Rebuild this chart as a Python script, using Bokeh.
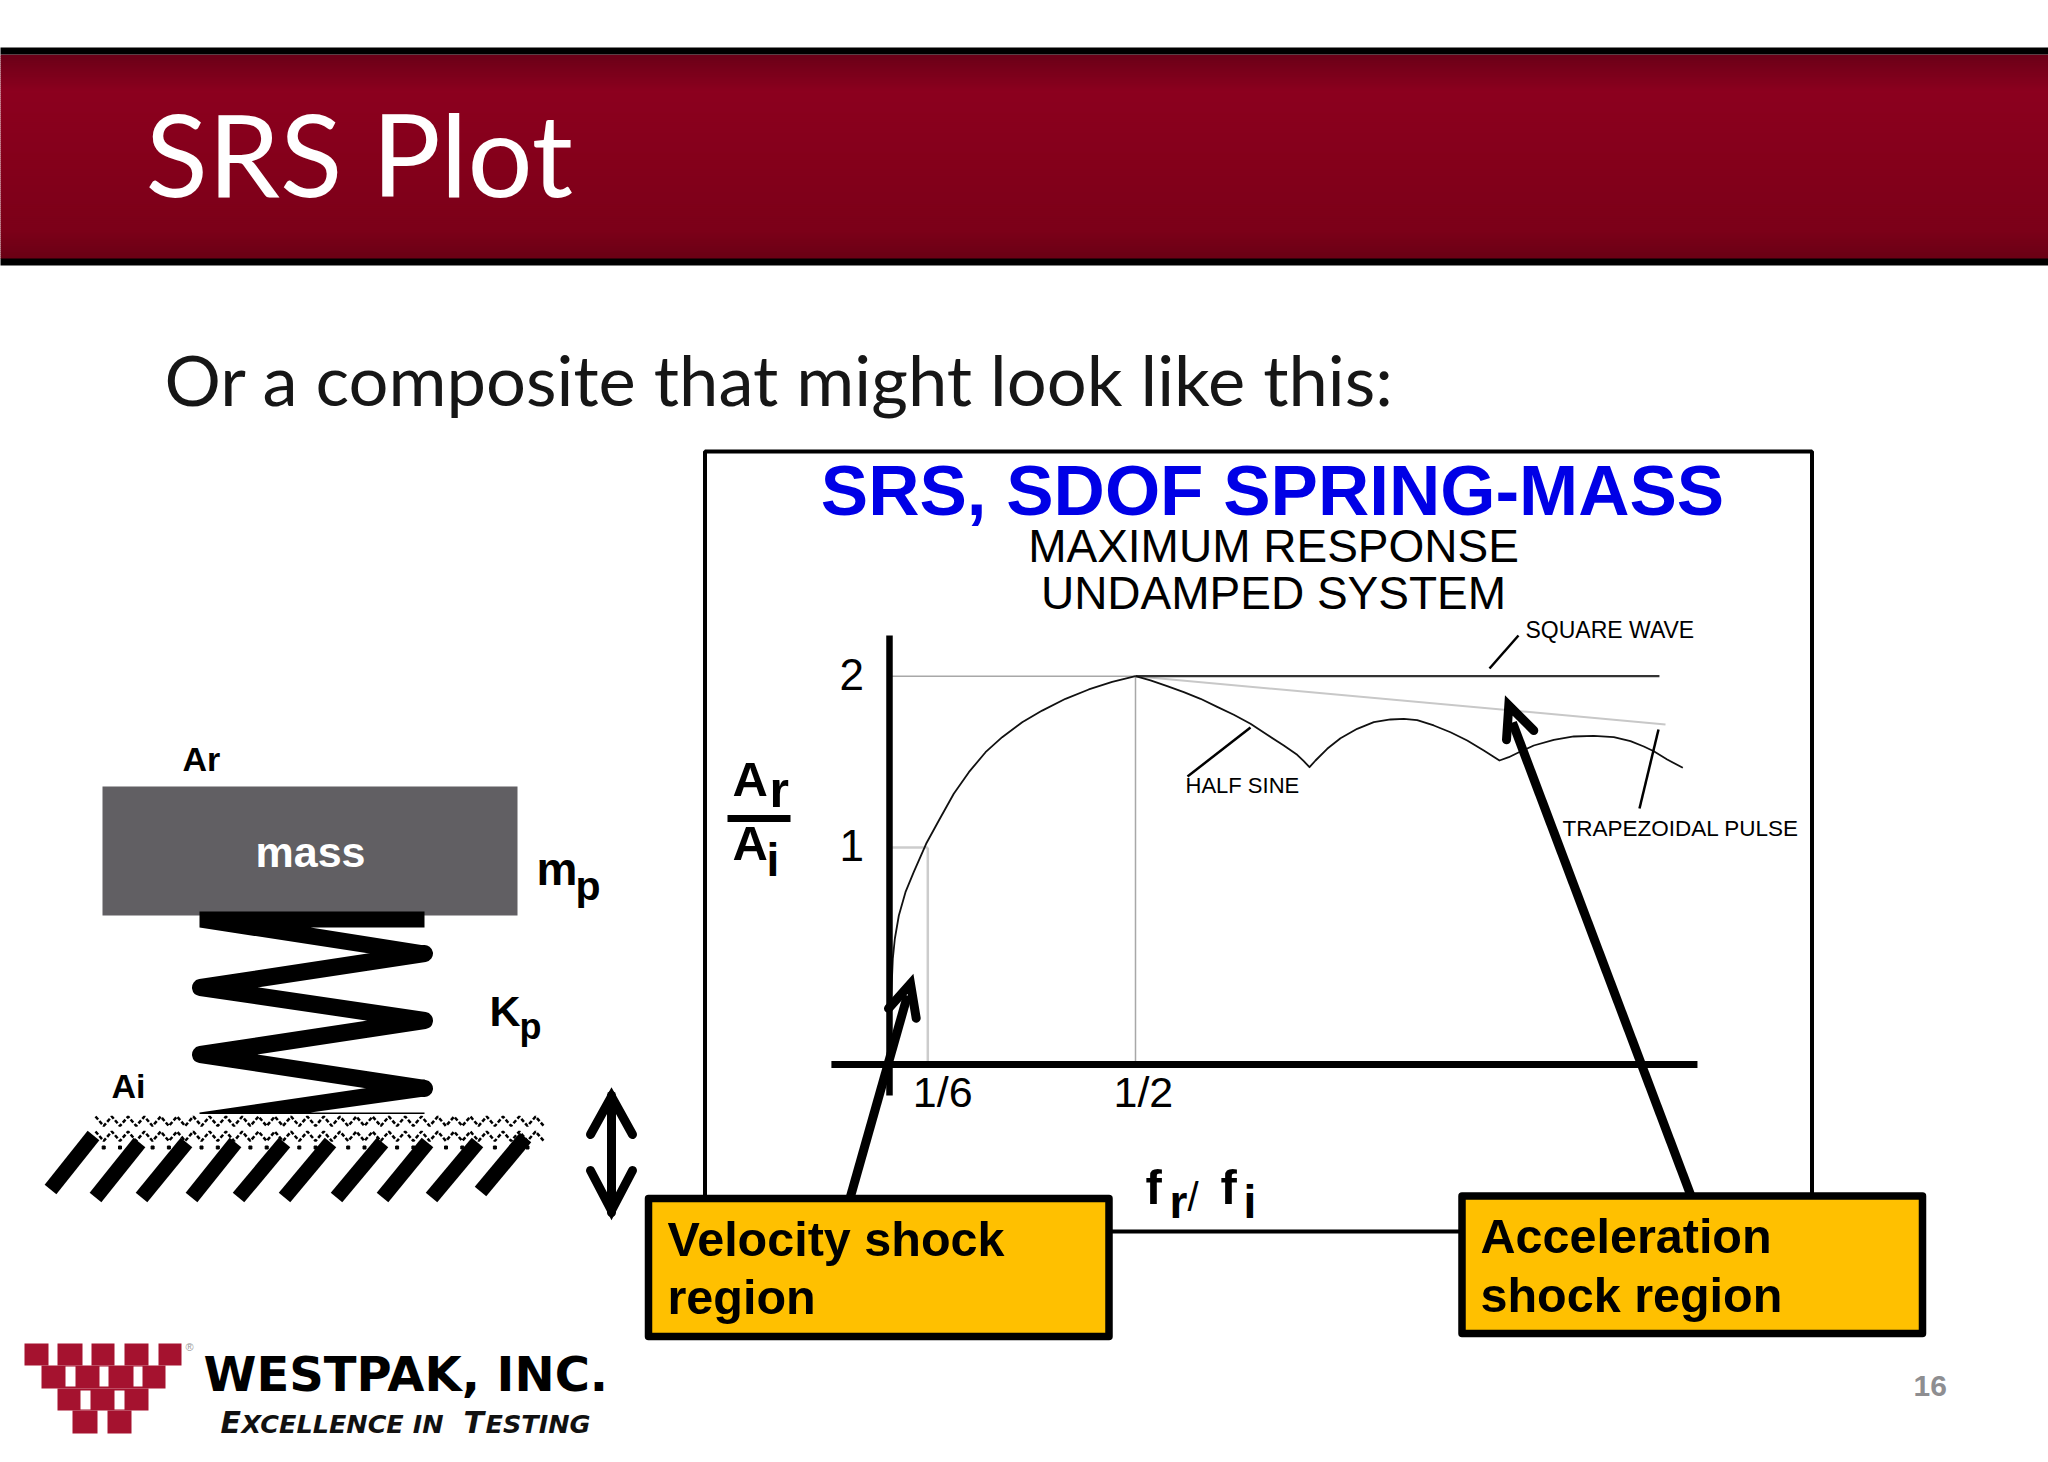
import numpy as np
from bokeh.core.properties import value
from bokeh.embed import file_html
from bokeh.models import Range1d, LogScale
from bokeh.plotting import figure
from bokeh.resources import INLINE

# ---------- chart data: response ratio Ar/Ai against frequency ratio fr/fi ----------
velocity_x = [0.1361, 0.1372, 0.1385, 0.1400, 0.1430, 0.1481, 0.1547, 0.1652, 0.1767, 0.1912, 0.2071,
              0.2262, 0.2470, 0.2746, 0.3052, 0.3453, 0.3905, 0.4420, 0.5]
velocity_y = [0.4157, 0.5385, 0.6371, 0.6912, 0.7595, 0.8345, 0.9050, 1.0151, 1.1155, 1.2428, 1.3563,
              1.4705, 1.5626, 1.6606, 1.7403, 1.8252, 1.8955, 1.9539, 2.0]
half_sine_x = [0.5, 0.5413, 0.5913, 0.6456, 0.7052, 0.7703, 0.8410, 0.9186, 1.0035, 1.0956, 1.1760, 1.2178,
               1.2551, 1.2956, 1.3783, 1.4787, 1.6153, 1.7636, 1.9265, 2.0669, 2.2186, 2.4222, 2.6458,
               2.8903, 3.1556, 3.4285, 3.6015, 3.8315, 4.1106, 4.5692, 5.079, 5.646, 6.276, 6.855, 7.357,
               7.755, 8.325, 9.041]
half_sine_y = [2.0, 1.9657, 1.9206, 1.8748, 1.8252, 1.7669, 1.7107, 1.6498, 1.5778, 1.5109, 1.4552, 1.4179,
               1.3840, 1.4219, 1.4910, 1.5562, 1.6165, 1.6606, 1.6787, 1.6835, 1.6741, 1.6385, 1.5943,
               1.5417, 1.4807, 1.4219, 1.4411, 1.4747, 1.5109, 1.5461, 1.5671, 1.5715, 1.5626, 1.5375, 1.5048,
               1.4765, 1.4276, 1.3806]
square_x = [0.5, 7.99]
square_y = [2.0, 2.0]
trapezoid_x = [0.5, 8.25]
trapezoid_y = [2.0, 1.645]
base_x = [0.1001, 9.77]
base_y = 0.4157
axis_x = 0.1361
axis_y = [0.3665, 2.358]
y_ticks = [1, 2]
y_tick_labels = ["1", "2"]
x_ticks = [1 / 6, 1 / 2]
x_tick_labels = ["1/6", "1/2"]

# ---------- slide artwork (drawn in page pixels) ----------
band_stops_y = [54, 90, 150, 230, 258]
band_stops_r = [108, 140, 134, 124, 106]
band_stops_g = [0, 0, 0, 0, 0]
band_stops_b = [24, 31, 28, 25, 21]
hatch_top_x = [93, 139, 186, 235, 284, 330, 382, 427, 477, 525]
hatch_top_y = [1135, 1142, 1142, 1142, 1142, 1142, 1142, 1142, 1142, 1137]
hatch_bot_x = [50, 95, 141, 191, 238, 284, 336, 382, 431, 480]
hatch_bot_y = [1189, 1197, 1197, 1197, 1197, 1197, 1197, 1197, 1197, 1191]
logo_x0 = [24, 57, 91, 124, 158, 41, 57, 72, 107]
logo_x1 = [48, 82, 114, 148, 181, 165, 148, 97, 131]
logo_y0 = [1343, 1343, 1343, 1343, 1343, 1365, 1388, 1410, 1410]
logo_y1 = [1365, 1365, 1365, 1365, 1365, 1388, 1410, 1433, 1433]
slit_x0 = [65, 99, 133, 80, 114]
slit_x1 = [75, 108, 142, 90, 124]
slit_y0 = [1366, 1366, 1366, 1390, 1390]
slit_y1 = [1386, 1386, 1386, 1409, 1409]

W, H = 2048, 1462
p = figure(width=W, height=H, x_range=Range1d(0, W), y_range=Range1d(H, 0),
           output_backend="svg", toolbar_location=None, min_border=0,
           x_axis_type=None, y_axis_type=None, outline_line_color=None,
           background_fill_color="white", border_fill_color="white")
p.grid.visible = False

# log-log scales of the SRS plot, anchored on its tick marks
X16, X12, Y1, Y2 = 927.3, 1135.0, 847.0, 675.7
kx = (X12 - X16) / np.log(3.0)
ky = (Y1 - Y2)
p.extra_x_ranges = {"srs": Range1d(0.5 * np.exp((0 - X12) / kx), 0.5 * np.exp((W - X12) / kx))}
p.extra_y_ranges = {"srs": Range1d(2 ** (1 - (H - Y2) / ky), 2 ** (1 - (0 - Y2) / ky))}
p.extra_x_scales = {"srs": LogScale()}
p.extra_y_scales = {"srs": LogScale()}
SRS = dict(x_range_name="srs", y_range_name="srs")
BASE_K = 0.38


def txt(x, y, s, size, color="black", style="normal", font="Liberation Sans", align="left"):
    p.text([x], [y], text=[s], text_font=value(font), text_font_size=value(f"{size}px"),
           text_font_style=style, text_color=color, text_align=align,
           text_baseline="alphabetic", y_offset=-BASE_K * size)


# header band
ys = np.arange(54, 258, 2)
p.quad(left=-3, right=W + 3, top=ys, bottom=ys + 2.5, line_color=None,
       fill_color=["#%02x%02x%02x" % (int(np.interp(v, band_stops_y, band_stops_r)),
                                      int(np.interp(v, band_stops_y, band_stops_g)),
                                      int(np.interp(v, band_stops_y, band_stops_b))) for v in ys])
p.quad(left=-3, right=W + 3, top=[47, 258], bottom=[54, 265], fill_color="black", line_color=None)
txt(145, 195, "SRS Plot", 115, "white", font="Lato")
txt(164, 405, "Or a composite that might look like this:", 70.5, "#161616", font="Lato")

# plot frame
p.multi_line([[704.5, 704.5, 1811.5, 1811.5]], [[1200, 451, 451, 1200]], line_color="black", line_width=4)
p.line([1100, 1470], [1231, 1231], line_color="black", line_width=4)
txt(1272, 517, "SRS, SDOF SPRING-MASS", 71, "#0000e6", "bold", align="center")
txt(1273, 563, "MAXIMUM RESPONSE", 46, align="center")
txt(1273, 610, "UNDAMPED SYSTEM", 46, align="center")

# SRS guides, axes and curves
p.line([axis_x, x_ticks[1]], [y_ticks[1], y_ticks[1]], line_color="#a8a8a8", line_width=1.5, **SRS)
p.line([axis_x, x_ticks[0]], [y_ticks[0], y_ticks[0]], line_color="#cccccc", line_width=2.5, **SRS)
p.line([x_ticks[0], x_ticks[0]], [base_y, y_ticks[0]], line_color="#cccccc", line_width=2.5, **SRS)
p.line([x_ticks[1], x_ticks[1]], [base_y, y_ticks[1]], line_color="#a8a8a8", line_width=1.5, **SRS)
p.line(trapezoid_x, trapezoid_y, line_color="#c8c8c8", line_width=2, **SRS)
p.line(square_x, square_y, line_color="#333333", line_width=2.2, **SRS)
p.line(velocity_x, velocity_y, line_color="#111111", line_width=1.8, line_join="round", **SRS)
p.line(half_sine_x, half_sine_y, line_color="#111111", line_width=1.8, line_join="round", **SRS)
p.line([axis_x, axis_x], axis_y, line_color="black", line_width=6.5, **SRS)
p.line(base_x, [base_y, base_y], line_color="black", line_width=7, **SRS)

for v, s in zip(y_ticks, y_tick_labels):
    p.text([axis_x], [v], text=[s], x_offset=-50, y_offset=-1.7, text_font=value("Liberation Sans"),
           text_font_size=value("44px"), text_baseline="alphabetic", **SRS)
for v, s, dx in zip(x_ticks, x_tick_labels, [-15, -22]):
    p.text([v], [base_y], text=[s], x_offset=dx, y_offset=27.7, text_font=value("Liberation Sans"),
           text_font_size=value("43px"), text_baseline="alphabetic", **SRS)

# curve labels and leaders
p.multi_line([[1518, 1489], [1250, 1187], [1658, 1639]], [[635, 668], [727, 776], [729, 808]],
             line_color="black", line_width=2.5)
txt(1525, 638, "SQUARE WAVE", 23)
txt(1185, 793, "HALF SINE", 22)
txt(1562, 837, "TRAPEZOIDAL PULSE", 22.5)

# Ar / Ai fraction
txt(732, 797, "A", 49, style="bold")
txt(769, 808, "r", 50, style="bold")
p.quad(left=[727], right=[790], top=[814.5], bottom=[821.5], fill_color="black", line_color=None)
txt(732, 861, "A", 49, style="bold")
txt(766, 877, "i", 46, style="bold")

# fr / fi
txt(1145, 1205, "f", 49, style="bold")
txt(1169, 1219, "r", 46, style="bold")
txt(1187, 1212, "/", 40)
txt(1220, 1205, "f", 49, style="bold")
txt(1243, 1219, "i", 46, style="bold")

# region arrows and boxes
p.multi_line([[850, 907], [1690, 1512]], [[1196, 995], [1194, 722]],
             line_color="black", line_width=9, line_cap="butt")
p.multi_line([[888, 910, 915.7], [1506, 1508.3, 1533.3]], [[1008, 983.3, 1017.7], [739.3, 705, 730]],
             line_color="black", line_width=9, line_join="miter", line_cap="round")
p.quad(left=[648, 1461.5], right=[1108.5, 1922], top=[1198, 1195.5], bottom=[1336, 1333],
       fill_color="#ffc000", line_color="black", line_width=7.5, line_join="round")
txt(667, 1257, "Velocity shock", 48.5, style="bold")
txt(667, 1315, "region", 48.5, style="bold")
txt(1480, 1254, "Acceleration", 48.5, style="bold")
txt(1480, 1313, "shock region", 48.5, style="bold")
txt(1913, 1397, "16", 30, "#8e8e91", "bold")

# mass
p.quad(left=[102], right=[517], top=[786], bottom=[915], fill_color="#615f63", line_color=None)
txt(310, 868, "mass", 43, "white", "bold", align="center")
txt(182, 771, "Ar", 34, style="bold")
txt(536, 886, "m", 46, style="bold")
txt(575, 901, "p", 41, style="bold")
txt(489, 1027, "K", 43, style="bold")
txt(519, 1040, "p", 36, style="bold")
txt(111, 1098, "Ai", 34, style="bold")

# spring
p.patch([199, 424, 424, 310, 424, 432, 424, 369, 199], [911, 911, 927, 927, 945, 953, 961, 953, 927],
        fill_color="black", line_color=None)
p.line([424, 200, 424, 200, 424], [953, 987, 1020, 1054, 1088], line_color="black", line_width=17,
       line_join="round", line_cap="round")
p.patch([199, 424, 432, 424, 310, 424, 424, 199], [1112, 1079, 1088, 1096, 1112, 1112, 1113.5, 1113.5],
        fill_color="black", line_color=None)

# ground texture
for y0 in (1116, 1131):
    xs = np.arange(95, 546, 8.15)
    zy = [y0 if i % 2 == 0 else y0 + 9.5 for i in range(len(xs))]
    p.line(xs, zy, line_color="black", line_width=2.5, line_dash="4 2")
dx = np.arange(103.2, 542, 16.3)
p.scatter(dx, [1147] * len(dx), marker="square", size=3, color="black")

# ground hatch
p.multi_line([[a, b] for a, b in zip(hatch_bot_x, hatch_top_x)],
             [[a, b] for a, b in zip(hatch_bot_y, hatch_top_y)],
             line_color="black", line_width=15, line_cap="butt")

# motion arrow
p.multi_line([[611, 611], [590, 611, 632], [590, 611, 632]], [[1095, 1212], [1134, 1096, 1134], [1170, 1210, 1170]],
             line_color="black", line_width=9, line_join="miter", line_cap="round")

# logo
p.quad(left=logo_x0, right=logo_x1, top=logo_y0, bottom=logo_y1, fill_color="#a5122f", line_color=None)
p.quad(left=slit_x0, right=slit_x1, top=slit_y0, bottom=slit_y1, fill_color="white", line_color=None)
txt(185, 1351, "®", 11, "#999999")
txt(203, 1392, "WESTPAK, INC.", 48, style="bold", font="DejaVu Sans")
txt(220, 1433, "E", 30, "#111111", "bold italic", font="DejaVu Sans")
txt(241, 1433, "XCELLENCE IN", 25.5, "#111111", "bold italic", font="DejaVu Sans")
txt(463, 1433, "T", 30, "#111111", "bold italic", font="DejaVu Sans")
txt(485, 1433, "ESTING", 25.5, "#111111", "bold italic", font="DejaVu Sans")

open("out.html", "w").write(file_html(p, INLINE))
